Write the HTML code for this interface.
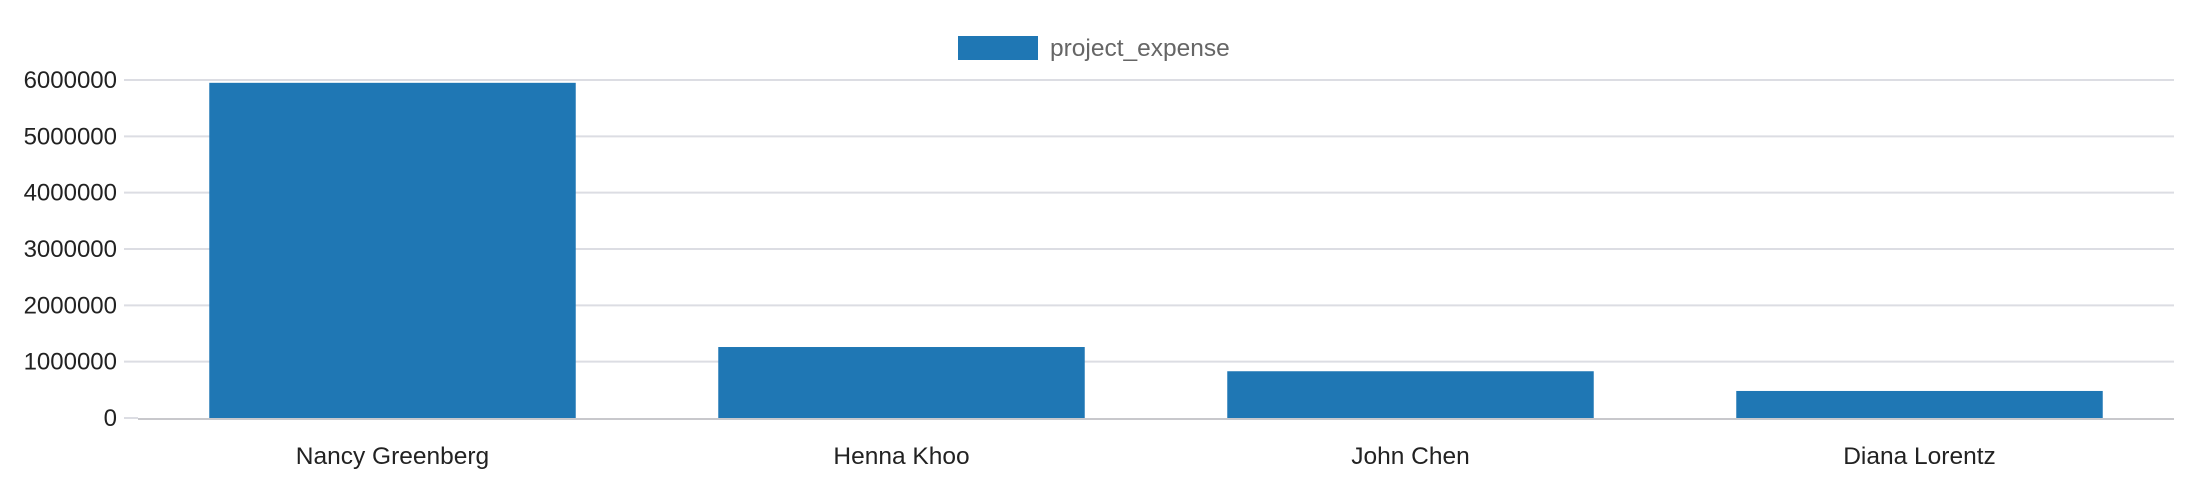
<!DOCTYPE html>
<html><head><meta charset="utf-8"><style>
html,body{margin:0;padding:0;background:#fff;}
svg{display:block;font-family:"Liberation Sans",sans-serif;}
</style></head><body>
<svg id="chart" width="2190" height="492" viewBox="0 0 2190 492">
<g id="grid"></g>
<g id="yaxis"></g>
<g id="bars"></g>
<g id="xaxis"></g>
<g>
<rect x="958" y="36" width="80" height="24" fill="#1f77b4"/>
<text x="1050" y="56" font-size="24.5" fill="#666">project_expense</text>
</g>
</svg>
<script>
const categories = ["Nancy Greenberg","Henna Khoo","John Chen","Diana Lorentz"];
const values = [5950000,1260000,830000,480000];
const yTicks = [0,1000000,2000000,3000000,4000000,5000000,6000000];
const NS="http://www.w3.org/2000/svg";
const X0=138,X1=2174,Y0=418,Y1=80,YMAX=6000000;
const y=v=>Y0-(v/YMAX)*(Y0-Y1);
const bw=(X1-X0)/categories.length;
const xc=i=>X0+bw*(i+0.5);
function mk(t,a,p){const e=document.createElementNS(NS,t);for(const k in a)e.setAttribute(k,a[k]);p.appendChild(e);return e;}
const grid=document.getElementById('grid'),ya=document.getElementById('yaxis'),bars=document.getElementById('bars'),xa=document.getElementById('xaxis');
yTicks.forEach(v=>{
  if(v>0){const l=mk('line',{x1:124,x2:X1,y1:y(v),y2:y(v),stroke:'#dcdde3','stroke-width':2},grid);
  
  }
  const t=mk('text',{x:117,y:y(v)+8,'text-anchor':'end','font-size':24,fill:'#222'},ya);
  
  
  t.textContent=v;
});
const tk=mk('line',{x1:124,x2:X0,y1:Y0,y2:Y0,stroke:'#dcdde3','stroke-width':2},ya);


categories.forEach((c,i)=>{
  const w=bw*0.72;
  const r=mk('rect',{x:xc(i)-w/2,y:y(values[i]),width:w,height:Y0-y(values[i]),fill:'#1f77b4'},bars);
  
  
  const t=mk('text',{x:xc(i),y:464,'text-anchor':'middle','font-size':24.5,fill:'#222'},xa);
  
  
  t.textContent=c;
});
const ax=mk('line',{x1:X0,x2:X1,y1:Y0+1,y2:Y0+1,stroke:'#c8c8cc','stroke-width':2},xa);


</script>
</body></html>
